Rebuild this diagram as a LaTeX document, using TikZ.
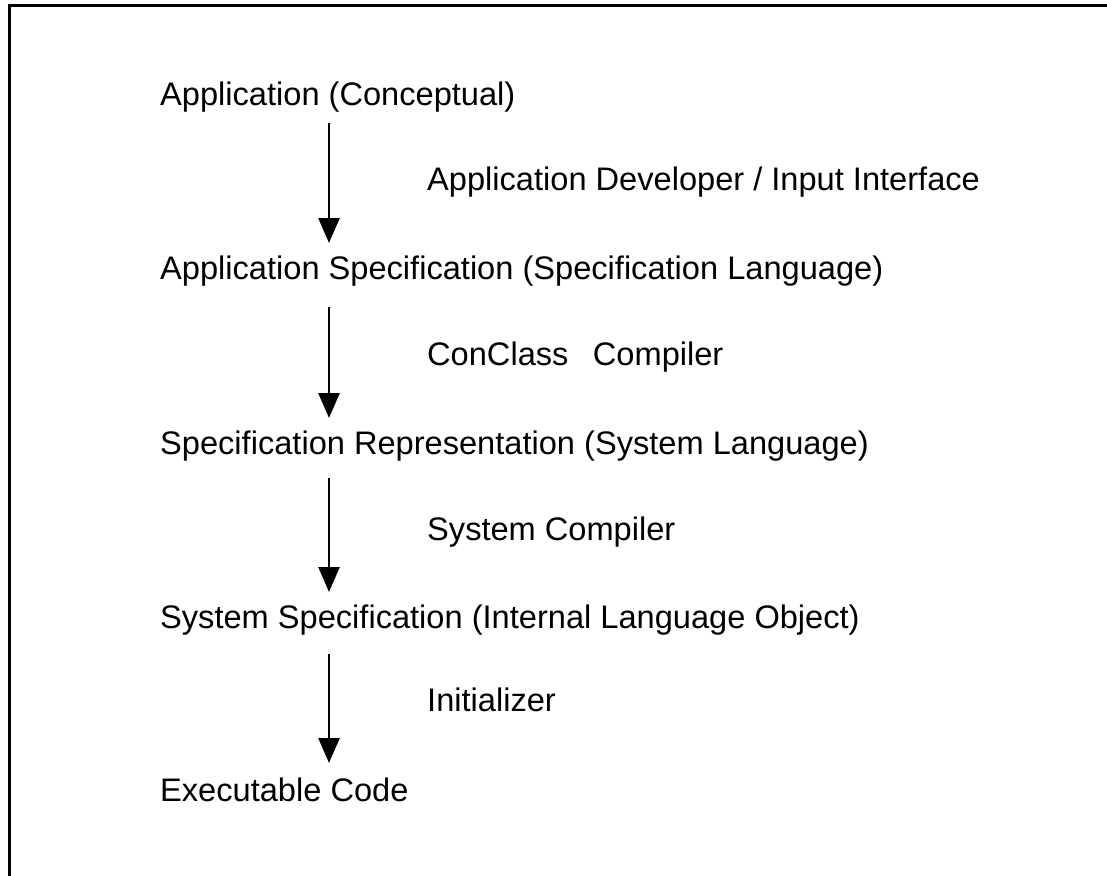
\documentclass[tikz,border=0pt]{standalone}
\usepackage{fontspec}
\setmainfont{Liberation Sans}
\usetikzlibrary{arrows.meta}
\begin{document}
\begin{tikzpicture}[x=1pt,y=-1pt,
  txt/.style={anchor=base west,inner sep=0pt,font=\fontsize{32.6}{36}\selectfont},
  flow/.style={line width=2.6pt,-{Triangle[width=21pt,length=25pt]}},
  frame/.style={line width=2.2pt}]
\useasboundingbox (0,0) rectangle (1107,875);
\draw[frame] (1110,5.5) -- (9.5,5.5) -- (9.5,880);
\node[txt] (t1) at (160,105) {Application (Conceptual)};
\node[txt] (l1) at (427,190) {Application Developer / Input Interface};
\node[txt] (t2) at (160,279) {Application Specification (Specification Language)};
\node[txt] (l2) at (427,365) {ConClass\hspace{0.75em}Compiler};
\node[txt] (t3) at (160,454) {Specification Representation (System Language)};
\node[txt] (l3) at (427,540) {System Compiler};
\node[txt] (t4) at (160,628) {System Specification (Internal Language Object)};
\node[txt] (l4) at (427,711) {Initializer};
\node[txt] (t5) at (160,801) {Executable Code};
\coordinate (a1s) at (329,123); \coordinate (a1e) at (329,243);
\coordinate (a2s) at (329,307); \coordinate (a2e) at (329,418);
\coordinate (a3s) at (329,478); \coordinate (a3e) at (329,592);
\coordinate (a4s) at (329,654); \coordinate (a4e) at (329,763);
\draw[flow] (a1s) -- (a1e);
\draw[flow] (a2s) -- (a2e);
\draw[flow] (a3s) -- (a3e);
\draw[flow] (a4s) -- (a4e);
\end{tikzpicture}
\end{document}
